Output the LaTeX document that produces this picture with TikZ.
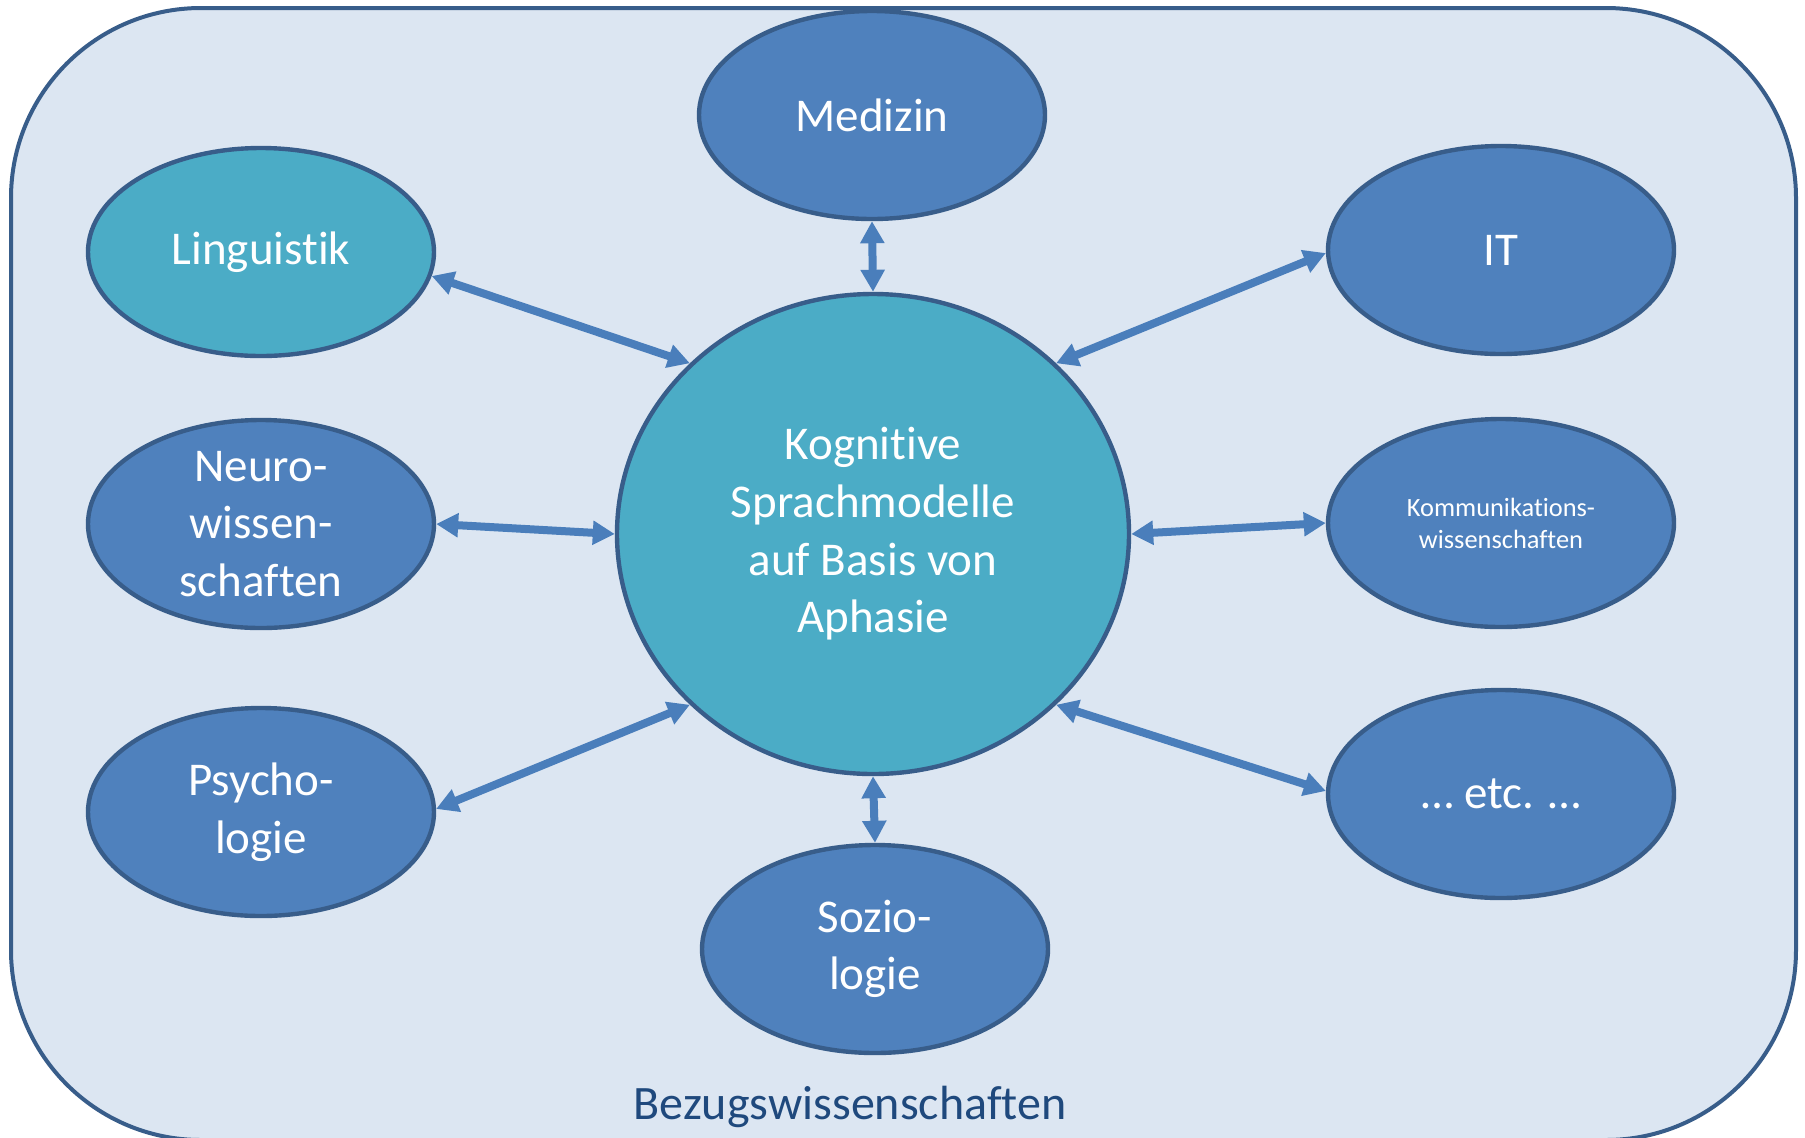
\documentclass[tikz,border=0pt]{standalone}
\usepackage{fontspec}
\setmainfont{Carlito}[Ligatures=NoCommon]
\usetikzlibrary{shapes.geometric,arrows.meta}
\definecolor{rahmen}{HTML}{385D8A}
\definecolor{hell}{HTML}{DCE6F2}
\definecolor{blau}{HTML}{4F81BD}
\definecolor{tuerkis}{HTML}{4BACC6}
\definecolor{pfeilblau}{HTML}{4A7EBB}
\definecolor{schrift}{HTML}{1F497D}
\begin{document}
\begin{tikzpicture}[x=0.5pt, y=-0.5pt, line join=round,
  fach/.style={ellipse, draw=rahmen, line width=2.2pt, fill=blau, text=white,
    minimum width=173pt, minimum height=104pt, inner sep=0pt, align=center,
    font=\fontsize{23.5}{28.8}\selectfont},
  kern/.style={fach, fill=tuerkis, minimum width=256pt, minimum height=240pt},
  pfeil/.style={pfeilblau, line width=4pt,
    {Triangle[length=11pt,width=11.5pt]}-{Triangle[length=11pt,width=11.5pt]}}]
\useasboundingbox (0,0) rectangle (1805,1137);
\clip (0,0) rectangle (1805,1137);
% Rahmen
\draw[rahmen, line width=2pt, fill=hell, rounded corners=95pt] (11,8) rectangle (1796,1140);
\node[kern] (kern) at (873,534) {Kognitive\\Sprachmodelle\\auf Basis von\\Aphasie};
\node[fach] (med) at (872,115) {Medizin};
\node[fach, fill=tuerkis] (ling) at (261,252) {Linguistik};
\node[fach] (it) at (1501,250) {IT};
\node[fach] (neuro) at (261,524) {Neuro-\\wissen-\\schaften};
\node[fach, font=\fontsize{13.2}{16}\selectfont] (komm) at (1501,523) {Kommunikations-\\wissenschaften};
\node[fach] (psycho) at (261,812) {Psycho-\\logie};
\node[fach] (etc) at (1501,794) {… etc. …};
\node[fach] (sozio) at (875,949) {Sozio-\\logie};
\node[text=schrift, font=\fontsize{24}{28.8}\selectfont, anchor=base] (bezug) at (850,1119) {Bezugswissenschaften};
% Pfeile
\draw[pfeil] (ling.352) -- (kern.137);
\draw[pfeil] (med.south) -- (kern.north);
\draw[pfeil] (it.181) -- (kern.43);
\draw[pfeil] (neuro.east) -- (kern.west);
\draw[pfeil] (komm.west) -- (kern.east);
\draw[pfeil] (psycho.1) -- (kern.223);
\draw[pfeil] (etc.179) -- (kern.317);
\draw[pfeil] (kern.south) -- (sozio.north);
\end{tikzpicture}
\end{document}
